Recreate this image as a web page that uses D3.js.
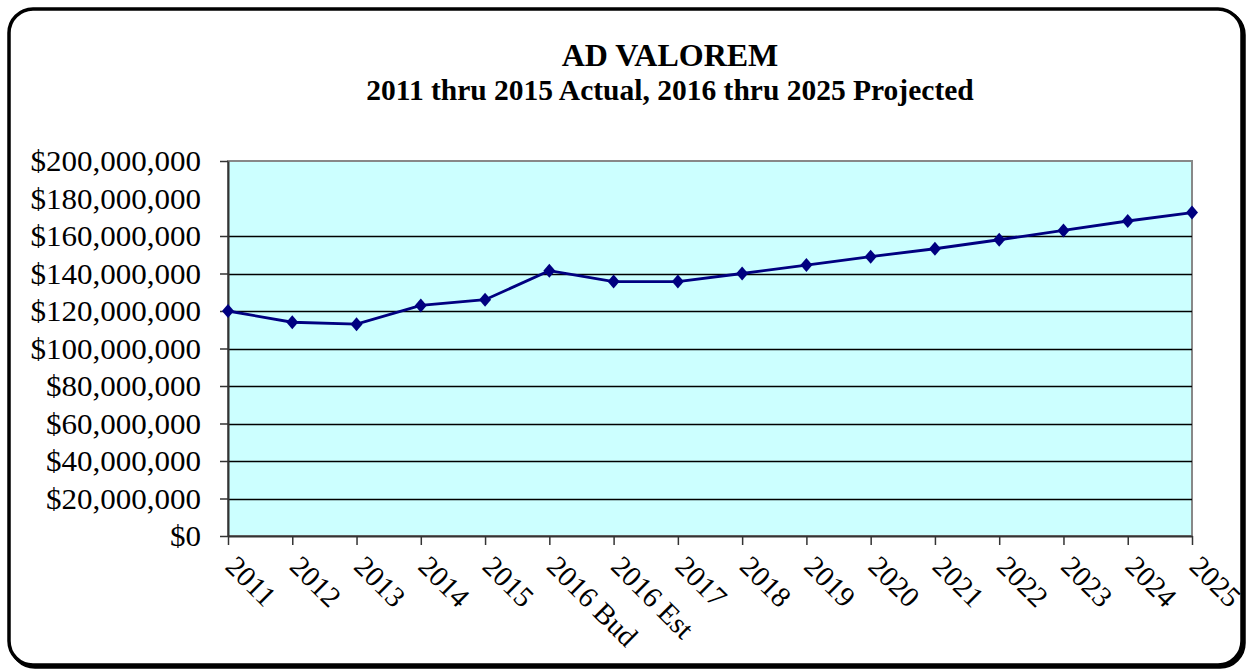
<!DOCTYPE html>
<html>
<head>
<meta charset="utf-8">
<script src="https://cdn.jsdelivr.net/npm/d3@7/dist/d3.min.js"></script>
<style>
  html, body { margin: 0; padding: 0; background: #ffffff; }
  svg { display: block; }
  text { font-family: "Liberation Serif", "Times New Roman", serif; fill: #000; }
</style>
</head>
<body>
<svg id="chart" width="1248" height="671"></svg>
<script>
const titleText = "AD VALOREM";
const subtitleText = "2011 thru 2015 Actual, 2016 thru 2025 Projected";
const categories = ["2011","2012","2013","2014","2015","2016 Bud","2016 Est","2017","2018","2019","2020","2021","2022","2023","2024","2025"];
const values = [120000000,114000000,113000000,123000000,126000000,141500000,135700000,135700000,140000000,144500000,149000000,153200000,158000000,163000000,168000000,172500000];
const yTicks = [0,20000000,40000000,60000000,80000000,100000000,120000000,140000000,160000000,180000000,200000000];
const gridValues = [20000000,40000000,60000000,80000000,100000000,120000000,140000000,160000000];

const svg = d3.select("#chart");
const plot = {left: 228, right: 1192, top: 161, bottom: 536};

// frame with shadow
svg.append("rect").attr("x", 11).attr("y", 11).attr("width", 1233).attr("height", 656)
  .attr("rx", 24).attr("fill", "none").attr("stroke", "#000").attr("stroke-width", 3.5);
svg.append("rect").attr("x", 9).attr("y", 9).attr("width", 1233).attr("height", 656)
  .attr("rx", 24).attr("fill", "#fff").attr("stroke", "#000").attr("stroke-width", 3.5);

// titles
svg.append("text").attr("x", 670).attr("y", 66).attr("text-anchor", "middle")
  .style("font-size", "32px").style("font-weight", "bold").text(titleText);
svg.append("text").attr("x", 670).attr("y", 100).attr("text-anchor", "middle")
  .style("font-size", "29.5px").style("font-weight", "bold").text(subtitleText);

const x = d3.scalePoint().domain(categories).range([plot.left, plot.right]);
const y = d3.scaleLinear().domain([0, 200000000]).range([plot.bottom, plot.top]);

// plot background
svg.append("rect").attr("x", plot.left).attr("y", plot.top)
  .attr("width", plot.right - plot.left).attr("height", plot.bottom - plot.top)
  .attr("fill", "#ccffff").attr("stroke", "#888888").attr("stroke-width", 2);

// gridlines
svg.append("g").selectAll("line").data(gridValues).join("line")
  .attr("x1", plot.left).attr("x2", plot.right)
  .attr("y1", d => Math.round(y(d)) + 0.5).attr("y2", d => Math.round(y(d)) + 0.5)
  .attr("stroke", "#000").attr("stroke-width", 1.5);

// y axis
const fmt = v => "$" + d3.format(",")(v);
const yAxis = svg.append("g").attr("transform", `translate(${plot.left},0)`)
  .call(d3.axisLeft(y).tickValues(yTicks.filter(v => v !== 180000000)).tickFormat("").tickSize(8).tickSizeOuter(0));
yAxis.select(".domain").attr("stroke", "#333").attr("stroke-width", 2);
yAxis.selectAll(".tick line").attr("stroke", "#333").attr("stroke-width", 1.5);
svg.append("g").selectAll("text").data(yTicks).join("text")
  .attr("transform", d => `translate(201,${y(d)}) scale(1.07,1)`)
  .attr("dy", "0.35em")
  .attr("text-anchor", "end").style("font-size", "29px").text(fmt);

// x axis
const xAxis = svg.append("g").attr("transform", `translate(0,${plot.bottom})`)
  .call(d3.axisBottom(x).tickSize(9).tickSizeOuter(0).tickFormat(""));
xAxis.select(".domain").attr("stroke", "#333").attr("stroke-width", 2);
xAxis.selectAll(".tick line").attr("stroke", "#333").attr("stroke-width", 1.5);
svg.append("g").selectAll("text").data(categories).join("text")
  .attr("transform", d => `translate(${x(d) - 4},${plot.bottom + 32}) rotate(45)`)
  .attr("text-anchor", "start").style("font-size", "29px").text(d => d);

// line
const line = d3.line().x((d, i) => x(categories[i])).y(d => y(d));
svg.append("path").datum(values).attr("d", line)
  .attr("fill", "none").attr("stroke", "#000080").attr("stroke-width", 2.8);

// markers
svg.append("g").selectAll("path").data(values).join("path")
  .attr("transform", (d, i) => `translate(${x(categories[i])},${y(d)})`)
  .attr("d", "M0,-7L6,0L0,7L-6,0Z")
  .attr("fill", "#000080");
</script>
</body>
</html>
